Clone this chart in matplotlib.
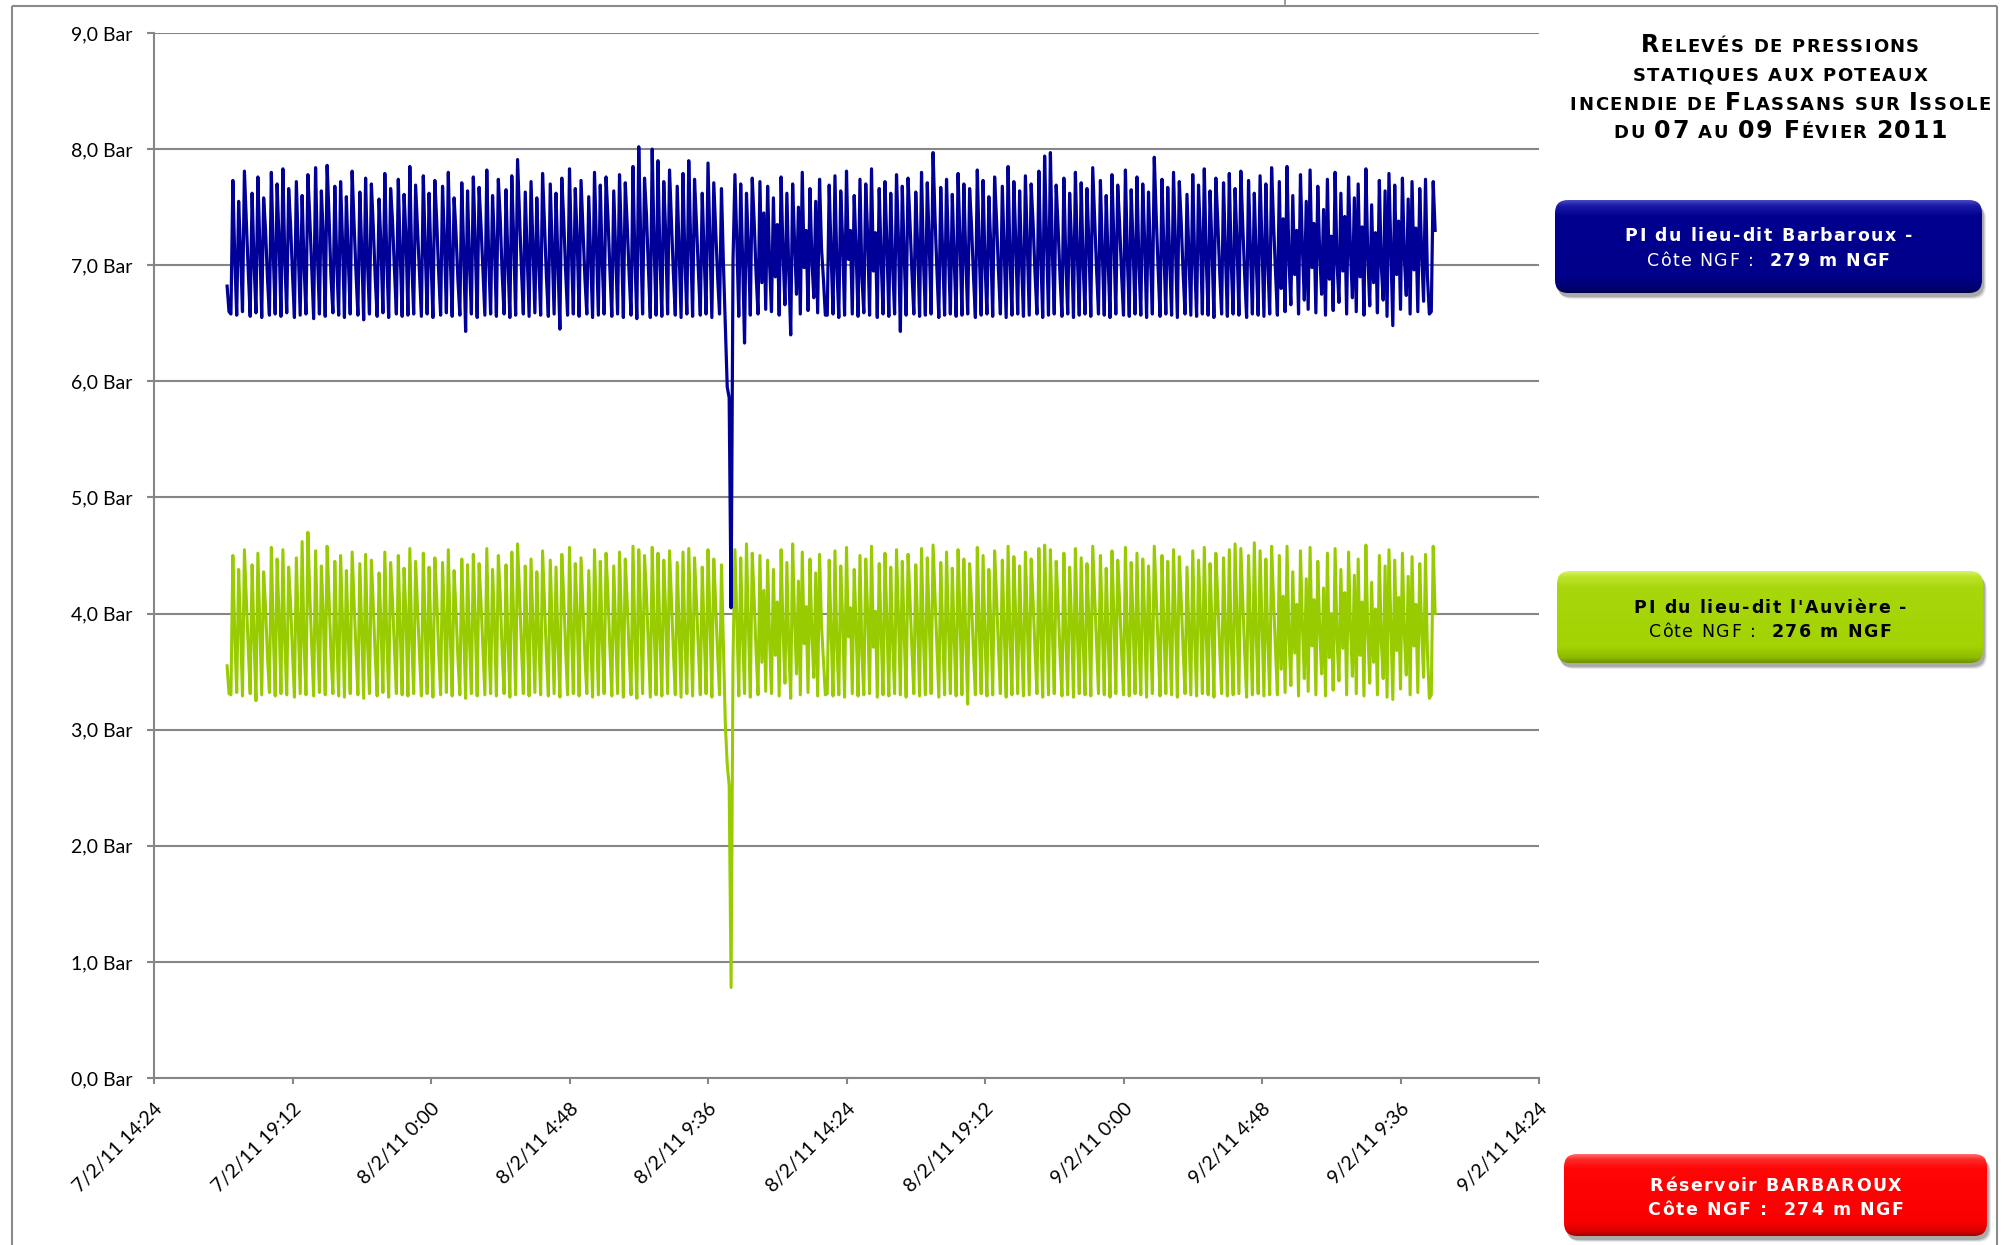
import numpy as np
import pandas as pd
import matplotlib
matplotlib.use("Agg")
import matplotlib.pyplot as plt
from datetime import datetime
from matplotlib.patches import FancyBboxPatch
from matplotlib.font_manager import FontProperties
from matplotlib.colors import LinearSegmentedColormap

# ---------------------------------------------------------------------------
# Pressure readings (bar), one reading every 4 minutes
# ---------------------------------------------------------------------------
first_reading = "2011-02-07 16:56"
step_minutes = 4

# PI du lieu-dit Barbaroux, before the pressure drop
barbaroux_before = [
    6.82, 6.60,
    6.58, 7.73, 7.05, 6.57, 7.55, 7.12, 6.60, 7.81, 7.38, 6.95, 6.56, 7.62, 7.02, 6.59, 7.76, 7.18,
    6.55, 7.58, 7.30, 6.88, 6.57, 7.80, 7.10, 6.58, 7.70, 7.22, 6.56, 7.83, 7.05, 6.59, 7.66, 7.35, 6.92,
    6.55, 7.72, 7.15, 6.57, 7.60, 7.00, 6.58, 7.78, 7.40, 6.97, 6.54, 7.84, 7.08, 6.58, 7.64, 7.25,
    6.56, 7.86, 7.42, 6.90, 6.59, 7.68, 7.04, 6.57, 7.72, 7.20, 6.55, 7.59, 7.06, 6.58, 7.81, 7.36, 6.94,
    6.57, 7.63, 7.12, 6.53, 7.75, 7.02, 6.58, 7.70, 7.33, 6.89, 6.56, 7.57, 7.16, 6.59, 7.79, 7.07,
    6.55, 7.66, 7.38, 6.96, 6.58, 7.74, 7.10, 6.56, 7.61, 7.24, 6.57, 7.85, 7.03, 6.58, 7.69, 7.31, 6.91,
    6.56, 7.77, 7.14, 6.58, 7.62, 7.05, 6.55, 7.73, 7.37, 6.93, 6.57, 7.68, 7.20, 6.59, 7.80, 7.08,
    6.56, 7.58, 7.28, 6.87, 6.57, 7.71, 7.11, 6.43, 7.64, 7.02, 6.58, 7.76, 7.19, 6.55, 7.67, 7.34, 6.95,
    6.57, 7.82, 7.06, 6.58, 7.60, 7.17, 6.56, 7.74, 7.40, 6.92, 6.58, 7.65, 7.03, 6.55, 7.77, 7.21,
    6.57, 7.91, 7.45, 6.97, 6.58, 7.63, 7.09, 6.56, 7.72, 7.15, 6.59, 7.58, 7.04, 6.57, 7.79, 7.36, 6.90,
    6.56, 7.70, 7.13, 6.58, 7.62, 7.01, 6.45, 7.75, 7.39, 6.94, 6.57, 7.83, 7.12, 6.58, 7.66, 7.22,
    6.56, 7.73, 7.32, 6.89, 6.58, 7.59, 7.07, 6.55, 7.80, 7.18, 6.57, 7.69, 7.03, 6.58, 7.76, 7.41, 6.96,
    6.56, 7.64, 7.10, 6.58, 7.78, 7.20, 6.55, 7.71, 7.35, 6.92, 6.57, 7.85, 7.06, 6.54, 8.02, 7.24,
    6.58, 7.75, 7.44, 6.98, 6.55, 8.00, 7.15, 6.57, 7.90, 7.08, 6.56, 7.72, 7.27, 6.58, 7.82, 7.38, 6.93,
    6.57, 7.68, 7.11, 6.55, 7.79, 7.04, 6.58, 7.90, 7.19, 6.56, 7.74, 7.36, 6.95,
    6.57, 7.62, 7.08, 6.58, 7.88, 7.22, 6.55, 7.71, 7.30, 6.90, 6.58, 7.66, 7.02,
]
barbaroux_drop = [6.50, 5.95, 5.86, 4.05, 7.04]
barbaroux_after = [
    7.78, 7.20,
    6.56, 7.70, 7.05, 6.33, 7.62, 7.15, 6.57, 7.75, 7.38, 6.92,
    6.58, 7.72, 6.85, 7.45, 6.62, 7.68, 7.02, 6.60, 7.58, 6.90, 7.35, 6.57,
    7.76, 7.10, 6.66, 7.62, 6.95, 6.40, 7.70, 7.20, 6.75, 7.50, 6.58, 7.80,
    6.98, 7.30, 6.61, 7.66, 7.05, 6.72, 7.55, 6.59, 7.74, 7.15, 6.88, 6.57,
    6.57, 7.69, 7.10, 6.58, 7.77, 6.98, 6.55, 7.64, 7.20, 6.57, 7.81, 7.05, 7.30, 6.58, 7.60, 7.12,
    6.56, 7.74, 6.90, 6.59, 7.70, 7.25, 6.57, 7.83, 6.95, 7.28, 6.55, 7.66, 7.06, 6.58, 7.72, 7.18,
    6.56, 7.62, 7.00, 6.58, 7.78, 7.22, 6.43, 7.68, 7.08, 6.57, 7.75, 7.37, 6.94, 6.58, 7.63, 7.15,
    6.56, 7.80, 7.05, 6.57, 7.71, 7.19, 6.58, 7.97, 7.42, 6.96, 6.55, 7.67, 7.09, 6.57, 7.74, 7.13,
    6.58, 7.61, 7.04, 6.56, 7.79, 7.21, 6.57, 7.70, 7.07, 6.58, 7.66, 7.34, 6.91, 6.55, 7.82, 7.14,
    6.57, 7.73, 7.02, 6.58, 7.59, 7.17, 6.56, 7.76, 7.39, 6.95, 6.58, 7.68, 7.10, 6.55, 7.85, 7.06,
    6.57, 7.72, 7.20, 6.58, 7.64, 7.03, 6.56, 7.77, 7.16, 6.57, 7.70, 7.36, 6.93, 6.58, 7.81, 7.08,
    6.55, 7.94, 7.22, 6.57, 7.97, 7.12, 6.58, 7.69, 7.33, 6.90, 6.56, 7.75, 7.05, 6.58, 7.62, 7.18,
    6.55, 7.80, 7.09, 6.57, 7.71, 7.01, 6.58, 7.66, 7.19, 6.56, 7.84, 7.40, 6.96, 6.58, 7.73, 7.11,
    6.57, 7.60, 7.04, 6.55, 7.78, 7.21, 6.58, 7.69, 7.35, 6.92, 6.57, 7.82, 7.07, 6.56, 7.65, 7.15,
    6.58, 7.76, 7.02, 6.57, 7.70, 7.20, 6.55, 7.63, 7.08, 6.58, 7.93, 7.43, 6.97, 6.56, 7.74, 7.13,
    6.58, 7.67, 7.05, 6.57, 7.80, 7.18, 6.55, 7.72, 7.37, 6.93, 6.58, 7.61, 7.10, 6.57, 7.78, 7.04,
    6.56, 7.69, 7.22, 6.58, 7.83, 7.06, 6.57, 7.64, 7.15, 6.55, 7.75, 7.38, 6.94, 6.58, 7.71, 7.09,
    6.56, 7.79, 7.02, 6.58, 7.66, 7.19, 6.57, 7.81, 7.34, 6.91, 6.55, 7.73, 7.12, 6.58, 7.62, 7.05,
    6.57, 7.77, 7.17, 6.56, 7.70, 7.03, 6.58, 7.84, 7.36, 6.95,
    6.57, 7.72, 6.80, 7.40, 6.60, 7.85, 7.05, 6.66, 7.60, 6.92,
    7.30, 6.58, 7.78, 7.15, 6.70, 7.55, 6.62, 7.82, 6.98, 7.36,
    6.59, 7.68, 7.10, 6.75, 7.48, 6.57, 7.74, 6.88, 7.25, 6.61,
    7.80, 7.02, 6.68, 7.62, 6.95, 7.42, 6.58, 7.76, 7.12, 6.72,
    7.58, 6.60, 7.70, 6.90, 7.33, 6.57, 7.83, 7.08, 6.65, 7.52,
    6.85, 7.28, 6.59, 7.73, 7.00, 6.70, 7.64, 6.56, 7.79, 7.14,
    6.48, 7.69, 6.92, 7.38, 6.62, 7.75, 7.06, 6.74, 7.57, 6.58,
    7.72, 6.96, 7.32, 6.60, 7.66, 7.10, 6.69, 7.74, 6.90, 6.58,
    6.60, 7.72, 7.30,
]

# PI du lieu-dit l'Auvière, before the pressure drop
auviere_before = [
    3.55, 3.31,
    3.30, 4.50, 3.80, 3.32, 4.38, 3.88, 3.29, 4.55, 4.12, 3.70, 3.31, 4.42, 3.78, 3.25, 4.52, 3.92,
    3.30, 4.36, 4.05, 3.62, 3.32, 4.57, 3.84, 3.29, 4.47, 3.96, 3.31, 4.55, 3.76, 3.30, 4.40, 4.08, 3.66,
    3.28, 4.48, 3.90, 3.31, 4.62, 3.74, 3.30, 4.70, 4.16, 3.71, 3.29, 4.54, 3.82, 3.32, 4.41, 3.98,
    3.30, 4.58, 4.14, 3.64, 3.31, 4.45, 3.79, 3.29, 4.50, 3.93, 3.28, 4.37, 3.80, 3.31, 4.53, 4.10, 3.68,
    3.30, 4.43, 3.86, 3.27, 4.51, 3.75, 3.31, 4.46, 4.07, 3.63, 3.29, 4.35, 3.90, 3.32, 4.53, 3.81,
    3.28, 4.44, 4.11, 3.69, 3.31, 4.50, 3.84, 3.30, 4.39, 3.97, 3.29, 4.56, 3.77, 3.31, 4.45, 4.05, 3.65,
    3.29, 4.52, 3.88, 3.31, 4.40, 3.79, 3.28, 4.48, 4.13, 3.67, 3.30, 4.44, 3.94, 3.32, 4.55, 3.82,
    3.29, 4.37, 4.02, 3.61, 3.30, 4.47, 3.85, 3.27, 4.42, 3.76, 3.31, 4.51, 3.92, 3.29, 4.43, 4.09, 3.70,
    3.30, 4.56, 3.80, 3.31, 4.38, 3.91, 3.29, 4.50, 4.15, 3.66, 3.31, 4.42, 3.78, 3.28, 4.53, 3.95,
    3.30, 4.60, 4.18, 3.72, 3.31, 4.41, 3.83, 3.29, 4.47, 3.89, 3.32, 4.36, 3.77, 3.30, 4.54, 4.10, 3.64,
    3.29, 4.46, 3.87, 3.31, 4.40, 3.75, 3.28, 4.51, 4.14, 3.68, 3.30, 4.57, 3.86, 3.31, 4.43, 3.96,
    3.29, 4.48, 4.06, 3.63, 3.31, 4.37, 3.81, 3.28, 4.55, 3.93, 3.30, 4.45, 3.78, 3.31, 4.52, 4.16, 3.70,
    3.29, 4.41, 3.85, 3.31, 4.53, 3.94, 3.28, 4.47, 4.10, 3.66, 3.30, 4.58, 3.79, 3.27, 4.55, 3.97,
    3.31, 4.50, 4.17, 3.72, 3.28, 4.57, 3.88, 3.30, 4.52, 3.81, 3.29, 4.46, 4.00, 3.31, 4.54, 4.12, 3.67,
    3.30, 4.44, 3.86, 3.28, 4.53, 3.78, 3.31, 4.56, 3.92, 3.29, 4.48, 4.11, 3.69,
    3.30, 4.40, 3.83, 3.31, 4.55, 3.95, 3.28, 4.47, 4.08, 3.65, 3.30, 4.42, 3.74,
]
auviere_drop = [3.05, 2.70, 2.52, 0.78, 3.60]
auviere_after = [
    4.55, 3.95,
    3.29, 4.48, 3.80, 3.31, 4.60, 3.90, 3.28, 4.52, 4.12, 3.67,
    3.30, 4.50, 3.58, 4.20, 3.33, 4.46, 3.78, 3.31, 4.38, 3.64, 4.10, 3.29,
    4.55, 3.86, 3.40, 4.44, 3.70, 3.27, 4.60, 3.96, 3.48, 4.28, 3.30, 4.53,
    3.74, 4.06, 3.32, 4.47, 3.82, 3.45, 4.35, 3.29, 4.51, 3.90, 3.60, 3.30,
    3.31, 4.46, 3.84, 3.29, 4.54, 3.72, 3.30, 4.41, 3.95, 3.28, 4.57, 3.80, 4.05, 3.31, 4.38, 3.88,
    3.29, 4.50, 3.66, 3.30, 4.47, 4.00, 3.31, 4.58, 3.71, 4.02, 3.28, 4.43, 3.83, 3.30, 4.52, 3.93,
    3.29, 4.40, 3.76, 3.31, 4.55, 3.97, 3.30, 4.45, 3.82, 3.28, 4.51, 4.13, 3.69, 3.31, 4.42, 3.90,
    3.29, 4.56, 3.79, 3.30, 4.48, 3.94, 3.31, 4.59, 4.16, 3.71, 3.28, 4.44, 3.85, 3.30, 4.53, 3.89,
    3.31, 4.39, 3.78, 3.29, 4.55, 3.96, 3.30, 4.47, 3.81, 3.22, 4.43, 4.09, 3.66, 3.30, 4.57, 3.88,
    3.31, 4.50, 3.77, 3.29, 4.38, 3.92, 3.30, 4.54, 4.14, 3.70, 3.31, 4.46, 3.85, 3.28, 4.58, 3.80,
    3.30, 4.49, 3.95, 3.31, 4.41, 3.78, 3.29, 4.53, 3.90, 3.30, 4.47, 4.11, 3.68, 3.31, 4.56, 3.83,
    3.28, 4.59, 3.97, 3.30, 4.55, 3.86, 3.31, 4.45, 4.08, 3.65, 3.29, 4.52, 3.80, 3.30, 4.40, 3.93,
    3.28, 4.56, 3.84, 3.31, 4.48, 3.76, 3.30, 4.43, 3.95, 3.29, 4.58, 4.15, 3.71, 3.31, 4.50, 3.87,
    3.30, 4.39, 3.79, 3.28, 4.54, 3.98, 3.31, 4.46, 4.10, 3.67, 3.30, 4.57, 3.82, 3.29, 4.44, 3.91,
    3.31, 4.52, 3.77, 3.30, 4.47, 3.96, 3.28, 4.41, 3.84, 3.31, 4.58, 4.16, 3.72, 3.29, 4.50, 3.88,
    3.31, 4.45, 3.80, 3.30, 4.55, 3.94, 3.28, 4.49, 4.12, 3.68, 3.31, 4.40, 3.86, 3.30, 4.54, 3.79,
    3.29, 4.46, 3.97, 3.31, 4.57, 3.82, 3.30, 4.43, 3.90, 3.28, 4.52, 4.13, 3.70, 3.31, 4.48, 3.85,
    3.29, 4.55, 3.77, 3.30, 4.60, 3.95, 3.31, 4.56, 4.10, 3.66, 3.28, 4.50, 3.88, 3.30, 4.61, 3.81,
    3.31, 4.54, 3.92, 3.29, 4.47, 3.78, 3.30, 4.58, 4.12, 3.69,
    3.30, 4.50, 3.52, 4.15, 3.32, 4.58, 3.80, 3.38, 4.36, 3.66,
    4.08, 3.29, 4.54, 3.90, 3.44, 4.30, 3.33, 4.57, 3.72, 4.12,
    3.30, 4.45, 3.86, 3.48, 4.22, 3.29, 4.52, 3.62, 4.00, 3.34,
    4.56, 3.78, 3.42, 4.38, 3.70, 4.18, 3.30, 4.53, 3.88, 3.46,
    4.33, 3.31, 4.47, 3.64, 4.10, 3.29, 4.59, 3.84, 3.40, 4.27,
    3.58, 4.04, 3.30, 4.50, 3.76, 3.44, 4.41, 3.28, 4.55, 3.90,
    3.26, 4.46, 3.68, 4.14, 3.35, 4.52, 3.82, 3.47, 4.32, 3.30,
    4.49, 3.72, 4.08, 3.32, 4.43, 3.86, 3.45, 4.51, 3.66, 3.27,
    3.30, 4.58, 4.00,
]

x_tick_labels = ["7/2/11 14:24", "7/2/11 19:12", "8/2/11 0:00", "8/2/11 4:48",
                 "8/2/11 9:36", "8/2/11 14:24", "8/2/11 19:12", "9/2/11 0:00",
                 "9/2/11 4:48", "9/2/11 9:36", "9/2/11 14:24"]
y_tick_labels = ["0,0 Bar", "1,0 Bar", "2,0 Bar", "3,0 Bar", "4,0 Bar",
                 "5,0 Bar", "6,0 Bar", "7,0 Bar", "8,0 Bar", "9,0 Bar"]

title_lines = [
    [("R", "big"), ("ELEVÉS DE PRESSIONS", "small")],
    [("STATIQUES AUX POTEAUX", "small")],
    [("INCENDIE DE ", "small"), ("F", "big"), ("LASSANS SUR ", "small"),
     ("I", "big"), ("SSOLE", "small")],
    [("DU ", "small"), ("07", "big"), (" AU ", "small"), ("09 F", "big"),
     ("ÉVIER ", "small"), ("2011", "big")],
]

legend_boxes = [
    {"lines": [[("PI du lieu-dit Barbaroux -", "bold")],
               [("Côte NGF :  ", "normal"), ("279 m NGF", "bold")]],
     "text": "white",
     "stops": [(0.0, "#4848c4"), (0.06, "#1a1aa6"), (0.18, "#00008f"),
               (0.82, "#00008a"), (0.94, "#000072"), (1.0, "#000050")]},
    {"lines": [[("PI du lieu-dit l'Auvière -", "bold")],
               [("Côte NGF :  ", "normal"), ("276 m NGF", "bold")]],
     "text": "black",
     "stops": [(0.0, "#d8f46c"), (0.06, "#bce42a"), (0.18, "#a8d70c"),
               (0.82, "#a3d303"), (0.94, "#8fbb00"), (1.0, "#6e9200")]},
    {"lines": [[("Réservoir BARBAROUX", "bold")],
               [("Côte NGF :  ", "bold"), ("274 m NGF", "bold")]],
     "text": "white",
     "stops": [(0.0, "#ff7070"), (0.06, "#ff2a2a"), (0.18, "#ff0505"),
               (0.82, "#fb0000"), (0.94, "#da0000"), (1.0, "#a20000")]},
]

# ---------------------------------------------------------------------------
# Figure
# ---------------------------------------------------------------------------
W, H, DPI = 2004, 1245, 100
plt.rcParams["font.family"] = ["Lato", "DejaVu Sans"]

BLUE = "#000099"
GREEN = "#99cc00"
GRID = "#868686"

fig = plt.figure(figsize=(W / DPI, H / DPI), dpi=DPI, facecolor="white")

left_px, right_px, top_px, bottom_px = 154, 1539, 33, 1078
ax = fig.add_axes([left_px / W, 1 - bottom_px / H,
                   (right_px - left_px) / W, (bottom_px - top_px) / H])

barbaroux = np.array(barbaroux_before + barbaroux_drop + barbaroux_after)
auviere = np.array(auviere_before + auviere_drop + auviere_after)
t_barb = pd.date_range(first_reading, periods=len(barbaroux), freq=f"{step_minutes}min")
t_auv = pd.date_range(first_reading, periods=len(auviere), freq=f"{step_minutes}min")

ax.plot(t_auv, auviere, color=GREEN, lw=2.2, solid_joinstyle="round", zorder=3)
ax.plot(t_barb, barbaroux, color=BLUE, lw=2.3, solid_joinstyle="round", zorder=4)

x_ticks = [datetime.strptime(s, "%d/%m/%y %H:%M") for s in x_tick_labels]
y_ticks = [float(s.split()[0].replace(",", ".")) for s in y_tick_labels]

ax.set_xlim(x_ticks[0], x_ticks[-1])
ax.set_ylim(y_ticks[0], y_ticks[-1])
ax.set_xticks(x_ticks, x_tick_labels)
ax.set_yticks(y_ticks, y_tick_labels)

ax.grid(axis="y", color=GRID, lw=1.5)
ax.set_axisbelow(True)
for side in ("top", "right"):
    ax.spines[side].set_visible(False)
for side in ("left", "bottom"):
    ax.spines[side].set_color(GRID)
    ax.spines[side].set_linewidth(1.5)

ax.tick_params(axis="y", direction="out", length=5, width=1.5, color=GRID,
               pad=10.5, labelsize=14)
ax.tick_params(axis="x", direction="out", length=4, width=1.5, color=GRID,
               pad=12, labelsize=14)
for lab in ax.get_xticklabels():
    lab.set_rotation(45)
    lab.set_ha("right")
    lab.set_va("top")
    lab.set_rotation_mode("anchor")

# ---------------------------------------------------------------------------
# Overlay in pixel coordinates: frame, title, legend boxes
# ---------------------------------------------------------------------------
ov = fig.add_axes([0, 0, 1, 1], zorder=5)
ov.set_axis_off()
ov.patch.set_alpha(0)

FRAME = "#8a8a8a"
ov.plot([12, 12], [H, 6], color=FRAME, lw=1.5, solid_capstyle="butt")
ov.plot([12, 1997], [6, 6], color=FRAME, lw=1.5, solid_capstyle="butt")
ov.plot([1997, 1997], [6, H], color=FRAME, lw=1.5, solid_capstyle="butt")
ov.plot([1285, 1285], [0, 4], color=FRAME, lw=1.2)

renderer = fig.canvas.get_renderer()


def advance(ch, fp):
    ref = renderer.get_text_width_height_descent("xx", fp, ismath=False)[0]
    return renderer.get_text_width_height_descent("x" + ch + "x", fp, ismath=False)[0] - ref


def rich_line(xc, y, parts, fonts, color, tracking):
    chars = [(ch, fonts[key]) for s, key in parts for ch in s]
    adv = [advance(ch, fp) for ch, fp in chars]
    total = sum(adv) + tracking * (len(chars) - 1)
    x = xc - total / 2
    for (ch, fp), a in zip(chars, adv):
        if ch != " ":
            ov.text(x, y, ch, fontproperties=fp, color=color,
                    ha="left", va="baseline", zorder=4)
        x += a + tracking


title_fonts = {"big": FontProperties(family="DejaVu Sans", weight="bold", size=17),
               "small": FontProperties(family="DejaVu Sans", weight="bold", size=13)}
for line, base in zip(title_lines, [52.5, 81, 109.5, 138]):
    rich_line(1780, base, line, title_fonts, "black", 1.6)

box_fonts = {"bold": FontProperties(family="DejaVu Sans", weight="bold", size=12.5),
             "normal": FontProperties(family="DejaVu Sans", weight="normal", size=12.5)}

box_rects = [(1555, 200, 1982, 293), (1557, 571, 1983, 663), (1564, 1154, 1987, 1236)]
box_baselines = [(241, 265.5), (613, 637), (1191, 1215)]


def draw_box(x0, y0, x1, y1, stops, radius=13):
    style = f"round,pad=0,rounding_size={radius}"
    for dx, dy, a in [(4, 6, 0.10), (3, 5, 0.15), (2, 4, 0.22)]:
        ov.add_patch(FancyBboxPatch((x0 + dx, y0 + dy), x1 - x0, y1 - y0,
                                    boxstyle=style, fc="#303030", ec="none",
                                    alpha=a, zorder=1))
    shape = FancyBboxPatch((x0, y0), x1 - x0, y1 - y0, boxstyle=style,
                           fc="none", ec="none", zorder=1.5)
    ov.add_patch(shape)
    cmap = LinearSegmentedColormap.from_list("box", stops)
    grad = np.linspace(0, 1, 256).reshape(-1, 1)
    im = ov.imshow(grad, cmap=cmap, extent=[x0, x1, y1, y0], aspect="auto",
                   interpolation="bilinear", zorder=2)
    im.set_clip_path(shape)


for box, rect, bases in zip(legend_boxes, box_rects, box_baselines):
    draw_box(*rect, box["stops"])
    xc = (rect[0] + rect[2]) / 2
    for line, base in zip(box["lines"], bases):
        rich_line(xc, base, line, box_fonts, box["text"], 1.6)

ov.set_xlim(0, W)
ov.set_ylim(H, 0)

fig.savefig("out.png", dpi=DPI, facecolor="white")
